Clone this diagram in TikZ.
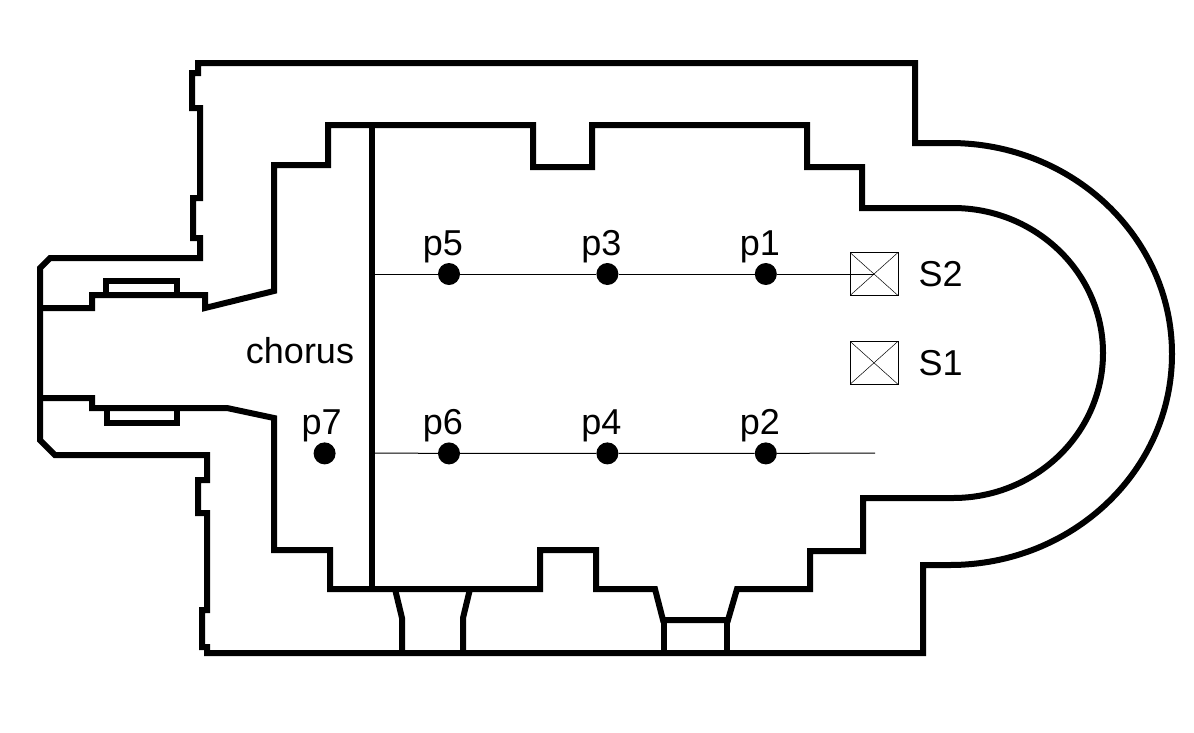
\documentclass[tikz,border=0pt]{standalone}
\usepackage{fontspec}
\setmainfont{Liberation Sans}
\usetikzlibrary{positioning}
\tikzset{%
  mywall/.style={line width=6pt},
  mychorus/.style={line width=5.5pt},
  myray/.style={line width=1pt},
  myprobe/.style={circle, fill=black, minimum size=22pt, inner sep=0pt},
  mysource/.style={draw, line width=0.8pt, minimum width=48pt, minimum height=43pt, inner sep=0pt,
    path picture={\draw[line width=0.5pt] (path picture bounding box.north west) -- (path picture bounding box.south east)
      (path picture bounding box.north east) -- (path picture bounding box.south west);}},
  mytag/.style={inner sep=0pt, font=\fontsize{36}{40}\selectfont}
}
\begin{document}
\begin{tikzpicture}[x=1pt, y=-1pt]
  \fill[white] (0,0) rectangle (1194,732);
  \draw[mywall] (198,63) -- (915,63) -- (915,143) -- (950,143)
    arc[start angle=90, end angle=-90, x radius=222pt, y radius=211pt]
    -- (923,565) -- (923,653) -- (207,653) -- (207,647) -- (202,647) -- (202,610) -- (207,610)
    -- (207,513) -- (198,513) -- (198,480) -- (207,480) -- (207,455) -- (55,455) -- (40,440)
    -- (40,268) -- (50,258) -- (200,258) -- (200,238) -- (193,238) -- (193,198) -- (200,198)
    -- (200,108) -- (192,108) -- (192,73) -- (198,73) -- cycle;
  \draw[mywall] (40,308) -- (92,308) -- (92,295) -- (205,295) -- (205,308) -- (274,291)
    -- (274,165) -- (328,165) -- (328,125) -- (533,125) -- (533,167) -- (592,167) -- (592,125)
    -- (807,125) -- (807,167) -- (862,167) -- (862,208) -- (953,208)
    arc[start angle=90, end angle=-90, x radius=150pt, y radius=145pt]
    -- (863,498) -- (863,551) -- (810,551) -- (810,589) -- (737,589) -- (728,620) -- (663,620)
    -- (655,589) -- (596,589) -- (596,550) -- (540,550) -- (540,589) -- (330,589) -- (330,550)
    -- (274,550) -- (274,418) -- (227,408) -- (92,408) -- (92,398) -- (40,398);
  \draw[mywall] (106,281) rectangle (177,295);
  \draw[mywall] (107,408) rectangle (177,423);
  \draw[mywall] (395,589) -- (402,618) -- (402,653);
  \draw[mywall] (470,589) -- (463,618) -- (463,653);
  \draw[mywall] (664,620) -- (664,653);
  \draw[mywall] (727,620) -- (727,653);
  \draw[mychorus] (372,125) -- (372,589);

  \coordinate (r1) at (372,274);
  \coordinate (r2) at (372,453);
  \coordinate (e2) at (875,453);
  \node[myprobe] (p5) at (449,274) {};
  \node[myprobe, right=136pt of p5] (p3) {};
  \node[myprobe, right=136pt of p3] (p1) {};
  \node[myprobe, below=157pt of p5] (p6) {};
  \node[myprobe, right=136pt of p6] (p4) {};
  \node[myprobe, right=136pt of p4] (p2) {};
  \node[myprobe, left=102pt of p6] (p7) {};
  \node[mysource] (s2) at (874,274) {};
  \node[mysource, below=45pt of s2] (s1) {};
  \draw[myray] (r1) -- (p5) -- (p3) -- (p1) -- (s2.center);
  \draw[myray] (r2) -- (p6) -- (p4) -- (p2) -- (e2);

  \node[mytag, above=0pt of p5, xshift=-6pt] (t5) {p5};
  \node[mytag, above=0pt of p3, xshift=-6pt] (t3) {p3};
  \node[mytag, above=0pt of p1, xshift=-6pt] (t1) {p1};
  \node[mytag, above=0pt of p6, xshift=-6pt] (t6) {p6};
  \node[mytag, above=0pt of p4, xshift=-6pt] (t4) {p4};
  \node[mytag, above=0pt of p2, xshift=-6pt] (t2) {p2};
  \node[mytag, above=0pt of p7, xshift=-3pt] (t7) {p7};
  \node[mytag, right=20pt of s2] (ts2) {S2};
  \node[mytag, right=20pt of s1] (ts1) {S1};
  \node[mytag, anchor=base] (ch) at (300,363) {chorus};
\end{tikzpicture}
\end{document}
